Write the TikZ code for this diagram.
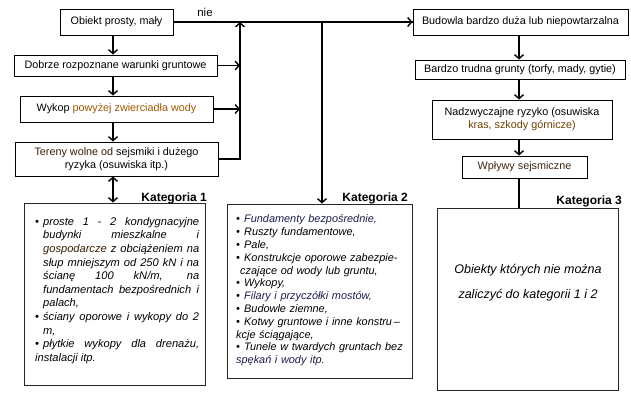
\documentclass[tikz,border=0pt]{standalone}
\usepackage{fontspec}
\setmainfont{Liberation Sans}
\usetikzlibrary{arrows.meta}
\definecolor{orng}{HTML}{A05800}
\definecolor{brwn}{HTML}{6E4000}
\definecolor{dbrwn}{HTML}{3E2612}
\definecolor{navy}{HTML}{1A1F4D}
\newcommand\bitm[1]{\par\noindent\hangindent=8pt\hangafter=1\makebox[8pt][l]{\textbullet}#1}
\tikzset{
  box/.style={draw=black, line width=0.9pt, fill=white, inner sep=1pt, align=center,
    font=\fontsize{10.8}{12.8}\selectfont},
  catbox/.style={draw=black!85, line width=0.9pt, fill=white},
  catlabel/.style={font=\bfseries\fontsize{12}{14}\selectfont, inner sep=0pt},
  arr/.style={line width=1.4pt, -{Straight Barb[length=4pt,width=9pt]}},
  darr/.style={line width=1.4pt, {Straight Barb[length=4pt,width=9pt]}-{Straight Barb[length=4pt,width=9pt]}},
  ln/.style={line width=1.4pt},
}
\begin{document}
\begin{tikzpicture}[x=1pt,y=-1pt]
\useasboundingbox (0,0) rectangle (631,403);
% left column
\node[box, minimum width=113pt, minimum height=26pt] (A) at (116.5,22) {Obiekt prosty, mały};
\node[box, minimum width=203pt, minimum height=21pt] (B) at (115.5,65.5) {Dobrze rozpoznane warunki gruntowe};
\node[box, minimum width=193pt, minimum height=26pt] (C) at (116.5,109) {Wykop \textcolor{orng}{powyżej zwierciadła wody}};
\node[box, minimum width=203pt, minimum height=34pt] (D) at (116.5,159) {\textcolor{brwn!50!black}{Tereny wolne od} sejsmiki i dużego\\ryzyka (osuwiska itp.)};
% right column
\node[box, minimum width=215pt, minimum height=26pt] (Bu) at (520.5,22) {Budowla bardzo duża lub niepowtarzalna};
\node[box, minimum width=210pt, minimum height=19pt] (Ba) at (520,69.5) {Bardzo trudna grunty (torfy, mady, gytie)};
\node[box, minimum width=180pt, minimum height=39pt] (N) at (522,119.5) {Nadzwyczajne ryzyko (osuwiska\\\textcolor{brwn}{kras, szkody górnicze)}};
\node[box, minimum width=125pt, minimum height=22pt] (W) at (524.5,167) {\textcolor{dbrwn}{Wpływy sejsmiczne}};
% category boxes
\node[catbox, minimum width=181pt, minimum height=182pt] (K1) at (114.5,294) {};
\node[catbox, minimum width=185pt, minimum height=174pt] (K2) at (319.5,291) {};
\node[catbox, minimum width=181pt, minimum height=182pt] (K3) at (527.5,299) {};
\node[catlabel, anchor=base east] (L1) at (207,201.5) {Kategoria 1};
\node[catlabel, anchor=base east] (L2) at (408,201.5) {Kategoria 2};
\node[catlabel, anchor=base east] (L3) at (622,204.5) {Kategoria 3};
\node[font=\fontsize{11.5}{13}\selectfont, inner sep=0pt] (nie) at (205,12) {nie};
% helper coordinates
\coordinate (xl) at (113,0);
\coordinate (xv) at (240,22);
\coordinate (x2) at (322,22);
\coordinate (xr) at (519,0);
% connectors left
\draw[ln] (A.east) -- (Bu.west);
\draw[arr] (Bu.west -| x2) ++(-10,0) -- (Bu.west);
\draw[arr] (D.east) -| (xv);
\draw[arr] (B.east) -- (B.east -| xv);
\draw[arr] (C.east) -- (C.east -| xv);
\draw[arr] (x2) -- (K2.north -| x2);
\draw[arr] (A.south -| xl) -- (B.north -| xl);
\draw[arr] (B.south -| xl) -- (C.north -| xl);
\draw[arr] (C.south -| xl) -- (D.north -| xl);
\draw[darr] (D.south -| xl) -- (K1.north -| xl);
% connectors right
\draw[arr] (Bu.south -| xr) -- (Ba.north -| xr);
\draw[arr] (Ba.south -| xr) -- (N.north -| xr);
\draw[arr] (N.south -| xr) -- (W.north -| xr);
\draw[ln] (W.south -| xr) -- (K3.north -| xr);
% category texts
\node[anchor=north west, inner sep=0pt, text width=164pt, align=justify,
  font=\itshape\fontsize{11.1}{13.6}\selectfont] (T1) at (35,211.5) {%
\bitm{proste 1 - 2 kondygnacyjne\linebreak budynki mieszkalne i\linebreak \textcolor{brwn!50!black}{gospodarcze} z obciążeniem na\linebreak słup mniejszym od 250 kN i na\linebreak ścianę 100 kN/m, na\linebreak fundamentach bezpośrednich i\linebreak palach,}
\bitm{ściany oporowe i wykopy do 2\linebreak m,}
\bitm{płytkie wykopy dla drenażu,\linebreak instalacji itp.}};
\node[anchor=north west, inner sep=0pt, text width=172pt, align=left,
  font=\itshape\fontsize{10.9}{12.8}\selectfont] (T2) at (236,210) {%
\bitm{\textcolor{navy}{Fundamenty bezpośrednie,}}
\bitm{Ruszty fundamentowe,}
\bitm{Pale,}
\bitm{Konstrukcje oporowe zabezpie-\\\hspace*{4pt}czające od wody lub gruntu,}
\bitm{Wykopy,}
\bitm{\textcolor{navy}{Filary i przyczółki mostów,}}
\bitm{Budowle ziemne,}
\bitm{Kotwy gruntowe i inne konstru\,--\\kcje ściągające,}
\bitm{Tunele w twardych gruntach bez\\\textcolor{navy}{spękań i wody itp.}}};
\node[inner sep=0pt, align=center, font=\itshape\fontsize{12.5}{25}\selectfont] (T3) at (528,282.5)
  {Obiekty których nie można\\zaliczyć do kategorii 1 i 2};
\end{tikzpicture}
\end{document}
